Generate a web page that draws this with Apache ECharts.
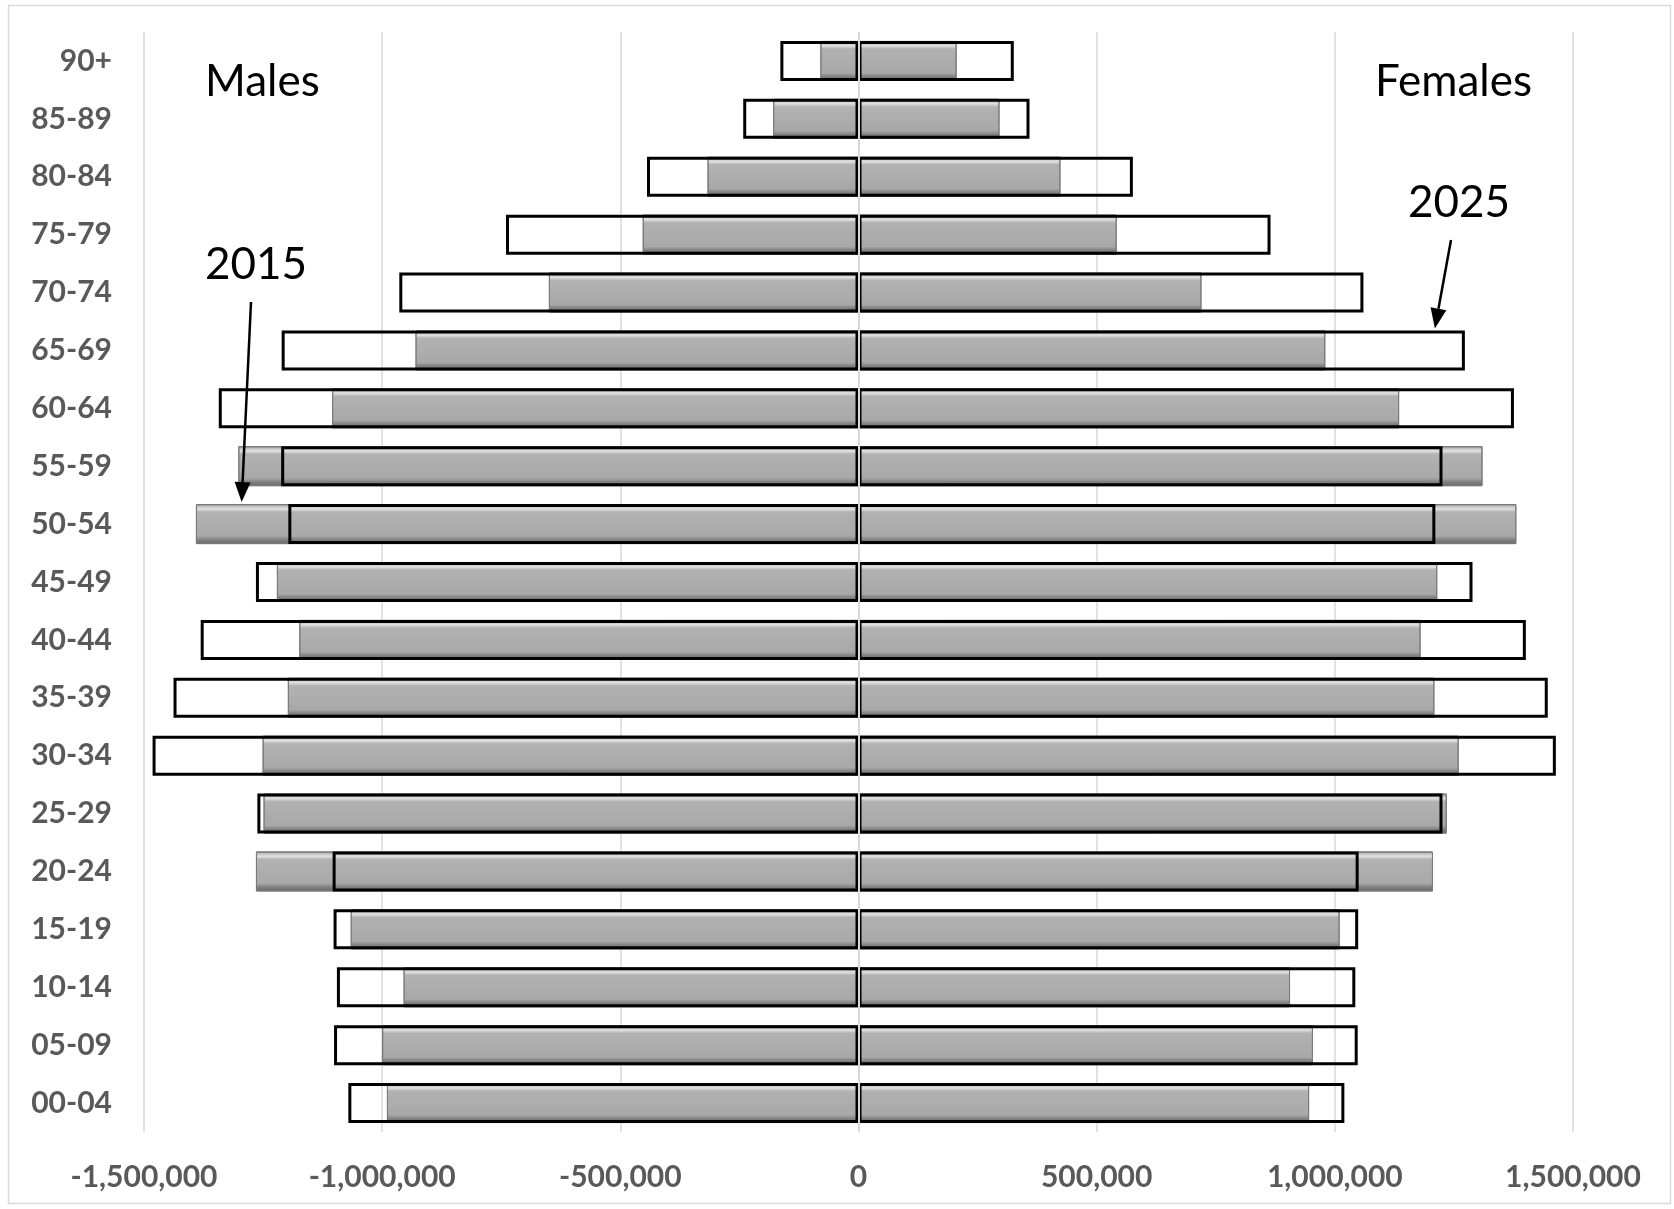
<!DOCTYPE html>
<html><head><meta charset="utf-8">
<script src="https://cdn.jsdelivr.net/npm/echarts@6/dist/echarts.min.js"></script>
<style>html,body{margin:0;padding:0;background:#fff}#c{width:1674px;height:1209px}</style>
</head><body><div id="c"></div><script>
// Age groups, bottom to top
const ageGroups = ['00-04','05-09','10-14','15-19','20-24','25-29','30-34','35-39','40-44','45-49','50-54','55-59','60-64','65-69','70-74','75-79','80-84','85-89','90+'];
// 2015 (grey bars)
const males2015   = [-990000,-1000000,-955000,-1066000,-1265000,-1249000,-1251000,-1198000,-1174000,-1221000,-1391000,-1302000,-1105000,-930000,-650000,-453000,-317000,-179000,-80000];
const females2015 = [946000,954000,906000,1010000,1206000,1235000,1260000,1209000,1180000,1215000,1381000,1310000,1135000,980000,720000,542000,424000,296000,206000];
// 2025 (outlined bars)
const males2025   = [-1071000,-1101000,-1095000,-1102000,-1104000,-1262000,-1482000,-1438000,-1381000,-1265000,-1197000,-1212000,-1343000,-1211000,-964000,-740000,-444000,-242000,-164000];
const females2025 = [1020000,1048000,1043000,1049000,1050000,1226000,1464000,1447000,1401000,1289000,1211000,1226000,1376000,1273000,1060000,865000,576000,359000,326000];
// Value axis ticks
const xMin = -1500000, xMax = 1500000, xStep = 500000;

const chart = echarts.init(document.getElementById('c'), null, {renderer:'canvas'});
const greyFill = new echarts.graphic.LinearGradient(0,0,0,1,[
  {offset:0, color:'#8e8e8e'},
  {offset:0.05, color:'#bdbdbd'},
  {offset:0.12, color:'#e2e2e2'},
  {offset:0.2, color:'#b2b2b2'},
  {offset:0.8, color:'#a8a8a8'},
  {offset:0.88, color:'#858585'},
  {offset:1, color:'#656565'}
]);
const greyStyle = {color: greyFill, borderColor:'#7a7a7a', borderWidth:1};
const outlineStyle = {color:'rgba(0,0,0,0)', borderColor:'#000', borderWidth:3};
const bw = 40;
const option = {
  animation:false,
  backgroundColor:'#fff',
  grid:{left:144, right:101, top:32, bottom:77, containLabel:false},
  xAxis:{
    type:'value', min:xMin, max:xMax, interval:xStep,
    axisLine:{show:false}, axisTick:{show:false},
    splitLine:{show:true, lineStyle:{color:'#d9d9d9', width:1.5}},
    axisLabel:{margin:30, color:'#595959', fontFamily:'Lato', fontWeight:'bold', fontSize:30,
      formatter:v=>v.toLocaleString('en-US')}
  },
  yAxis:{
    type:'category', data:ageGroups,
    axisLine:{show:false}, axisTick:{show:false}, splitLine:{show:false},
    axisLabel:{margin:32, color:'#595959', fontFamily:'Lato', fontWeight:'bold', fontSize:30}
  },
  series:[
    {name:'Males 2015', type:'bar', data:males2015, barWidth:bw, barGap:'-100%', itemStyle:greyStyle, z:2},
    {name:'Females 2015', type:'bar', data:females2015, barWidth:bw, barGap:'-100%', itemStyle:greyStyle, z:2},
    {name:'Males 2025', type:'bar', data:males2025, barWidth:bw, barGap:'-100%', itemStyle:outlineStyle, z:3},
    {name:'Females 2025', type:'bar', data:females2025, barWidth:bw, barGap:'-100%', itemStyle:outlineStyle, z:3,
      markLine:{silent:true, symbol:'none', label:{show:false},
        lineStyle:{color:'#d9d9d9', width:2, type:'solid'}, data:[{xAxis:0}], z:5}}
  ]
};
chart.setOption(option);

// annotation arrows pointing at bars (positions from data coords)
const tip2015 = chart.convertToPixel({gridIndex:0},[-1295000,'50-54']);
const tip2025 = chart.convertToPixel({gridIndex:0},[1210000,'65-69']);
function arrow(x1,y1,x2,y2){
  const ang = Math.atan2(y2-y1,x2-x1), L=20, W=8;
  const bx = x2 - L*Math.cos(ang), by = y2 - L*Math.sin(ang);
  const px = -Math.sin(ang)*W, py = Math.cos(ang)*W;
  return [
    {type:'line', shape:{x1:x1,y1:y1,x2:bx,y2:by}, style:{stroke:'#000', lineWidth:2.5}, z:10},
    {type:'polygon', shape:{points:[[x2,y2],[bx+px,by+py],[bx-px,by-py]]}, style:{fill:'#000'}, z:10}
  ];
}
const tipOffset = bw/2 + 2;
const txt = (t,x,y,align)=>({type:'text', x:x, y:y, z:10,
  style:{text:t, fill:'#000', font:'44px Lato', textAlign:align||'left', textVerticalAlign:'bottom'}});
chart.setOption({graphic:[
  {type:'rect', shape:{x:8.5,y:5.5,width:1662,height:1198}, style:{fill:'none', stroke:'#d9d9d9', lineWidth:1.5}, z:0, silent:true},
  txt('Males',205,104),
  txt('Females',1532,104,'right'),
  txt('2015',205,287),
  txt('2025',1408,225),
  ...arrow(251,302,tip2015[0],tip2015[1]-tipOffset),
  ...arrow(1451,240,tip2025[0],tip2025[1]-tipOffset)
]});
</script></body></html>
